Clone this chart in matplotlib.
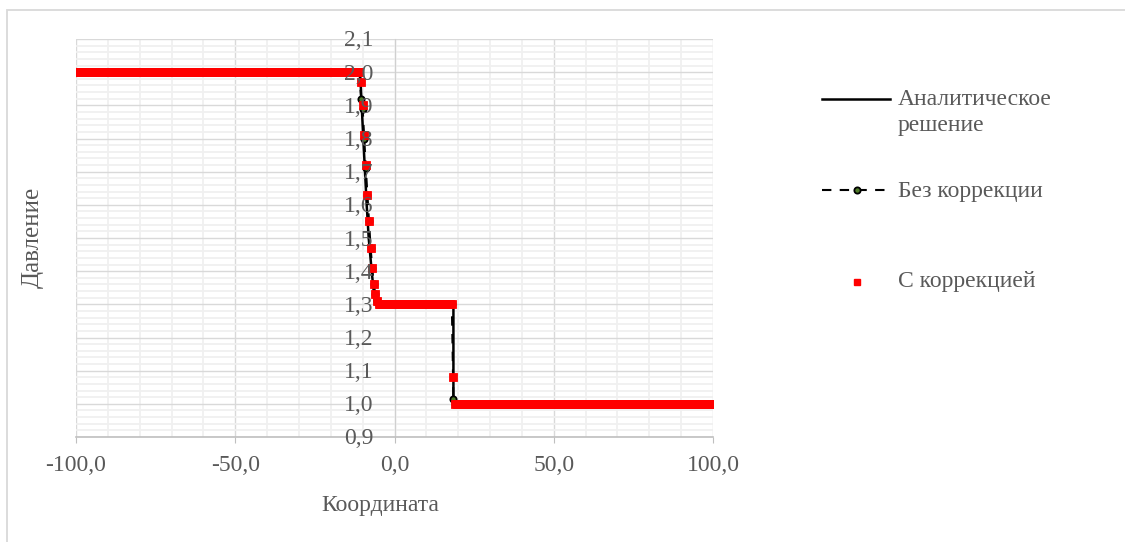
import numpy as np
import matplotlib
matplotlib.use("Agg")
import matplotlib.pyplot as plt
from matplotlib.lines import Line2D
from matplotlib.patches import Rectangle
from matplotlib.ticker import MultipleLocator, FuncFormatter
from matplotlib.transforms import ScaledTranslation

plt.rcParams['font.family'] = ['Liberation Serif', 'DejaVu Serif']

# ---- data ----
# analytic solution: left state, rarefaction fan, plateau, shock, right state
x_exact = [-100.0, -10.8, -10.3, -9.8, -9.26, -8.73, -8.1, -7.16, -6.12, 18.5, 18.5, 100.0]
p_exact = [2.0, 2.0, 1.9, 1.8, 1.7, 1.6, 1.5, 1.4, 1.3, 1.3, 1.0, 1.0]

# numerical grid
x_grid = np.arange(-100.0, 100.5, 0.5)
p_left, p_mid, p_right = 2.0, 1.3, 1.0

# with correction: values inside the fan and at the shock
fan_x = [-10.5, -10.0, -9.5, -9.0, -8.5, -8.0, -7.5, -7.0, -6.5, -6.0, -5.5]
fan_p_corr = [1.97, 1.90, 1.81, 1.72, 1.63, 1.55, 1.47, 1.41, 1.36, 1.33, 1.31]
shock_x = [18.5]
shock_p_corr = [1.08]

# without correction
fan_p_nocorr = [1.92, 1.89, 1.80, 1.71, 1.63, 1.55, 1.47, 1.41, 1.36, 1.33, 1.31]
shock_p_nocorr = [1.015]

yticks = [0.9, 1.0, 1.1, 1.2, 1.3, 1.4, 1.5, 1.6, 1.7, 1.8, 1.9, 2.0, 2.1]
xticks_major = 50
labels = ['Аналитическое\nрешение', 'Без коррекции', 'С коррекцией']


def build(fan_p, shock_p):
    p = np.where(x_grid < fan_x[0], p_left, p_mid)
    p = np.where(x_grid >= shock_x[0], p_right, p)
    for xv, pv in zip(fan_x, fan_p):
        p[np.isclose(x_grid, xv)] = pv
    for xv, pv in zip(shock_x, shock_p):
        p[np.isclose(x_grid, xv)] = pv
    return p


p_corr = build(fan_p_corr, shock_p_corr)
p_nocorr = build(fan_p_nocorr, shock_p_nocorr)

# ---- figure ----
W, H = 1125, 542
fig = plt.figure(figsize=(W / 100, H / 100), dpi=100)
ax = fig.add_axes([76 / W, 1 - 437 / H, 637 / W, 398 / H])

txt = '#595959'
fs = 17
ax.plot(x_exact, p_exact, color='black', lw=1.8, zorder=3)
ax.plot(x_grid, p_nocorr, color='black', lw=1.5, ls=(0, (4.5, 4)),
        marker='o', ms=4.5, mfc='#4f7a28', mec='black', mew=1.3, zorder=4)
ax.plot(x_grid, p_corr, ls='none', marker='s', ms=5.2, mfc='red', mec='red',
        mew=0.6, zorder=5)

ax.set_xlim(-100, 100)
ax.set_ylim(0.9, 2.1)
ax.xaxis.set_major_locator(MultipleLocator(xticks_major))
ax.xaxis.set_minor_locator(MultipleLocator(10))
ax.set_yticks(yticks)
ax.yaxis.set_minor_locator(MultipleLocator(0.02))
ax.grid(which='minor', color='#f0f0f0', lw=1.3, zorder=0)
ax.grid(which='major', color='#d9d9d9', lw=1.0, zorder=0)
ax.set_axisbelow(True)

comma = FuncFormatter(lambda v, _: f'{v:.1f}'.replace('.', ','))
ax.xaxis.set_major_formatter(comma)
ax.set_yticklabels([])

for s in ('top', 'right'):
    ax.spines[s].set_visible(False)
ax.spines['left'].set_position(('data', 0))
ax.spines['left'].set_color('#d0d0d0')
ax.spines['bottom'].set_color('#bfbfbf')
ax.spines['bottom'].set_linewidth(1.2)
ax.tick_params(axis='x', which='major', length=4, color='#bfbfbf',
               labelsize=fs, labelcolor=txt, pad=9)
ax.tick_params(axis='y', which='major', length=0)
ax.tick_params(which='minor', length=0)

# y tick labels sit next to the vertical axis at x=0, drawn over the data
shift = ax.transData + ScaledTranslation(-21 / 100, -2 / 100, fig.dpi_scale_trans)
for v in yticks:
    ax.text(0, v, comma(v, None), transform=shift, ha='right', va='center',
            fontsize=fs, color=txt, zorder=10, clip_on=False)

fig.text(380 / W, 1 - 505 / H, 'Координата', ha='center', va='center',
         fontsize=fs, color=txt)
fig.text(33 / W, 1 - 237 / H, 'Давление', ha='center', va='center',
         rotation=90, fontsize=fs + 1, color=txt)

# ---- legend (drawn by hand, Excel style) ----
def fx(x):
    return x / W


def fy(y):
    return 1 - y / H


fig.add_artist(Line2D([fx(822), fx(890)], [fy(99), fy(99)], color='black',
                      lw=1.8, transform=fig.transFigure))
fig.add_artist(Line2D([fx(822), fx(890)], [fy(190), fy(190)], color='black',
                      lw=1.5, ls=(0, (4.5, 4)), transform=fig.transFigure))
fig.add_artist(Line2D([fx(857)], [fy(190)], ls='none', marker='o', ms=4.5,
                      mfc='#4f7a28', mec='black', mew=1.3,
                      transform=fig.transFigure))
fig.add_artist(Line2D([fx(857)], [fy(282)], ls='none', marker='s', ms=4.6,
                      mfc='red', mec='red', transform=fig.transFigure))
fig.text(fx(898), fy(100), 'Аналитическое', va='center', fontsize=fs, color=txt)
fig.text(fx(898), fy(125), 'решение', va='center', fontsize=fs, color=txt)
fig.text(fx(898), fy(192), labels[1], va='center', fontsize=fs, color=txt)
fig.text(fx(898), fy(282), labels[2], va='center', fontsize=fs, color=txt)

# chart area border
fig.add_artist(Rectangle((fx(7), -0.1), 1.5, fy(10) + 0.1, fill=False,
                         ec='#d9d9d9', lw=1.3, transform=fig.transFigure))

fig.savefig('out.png', dpi=100)
